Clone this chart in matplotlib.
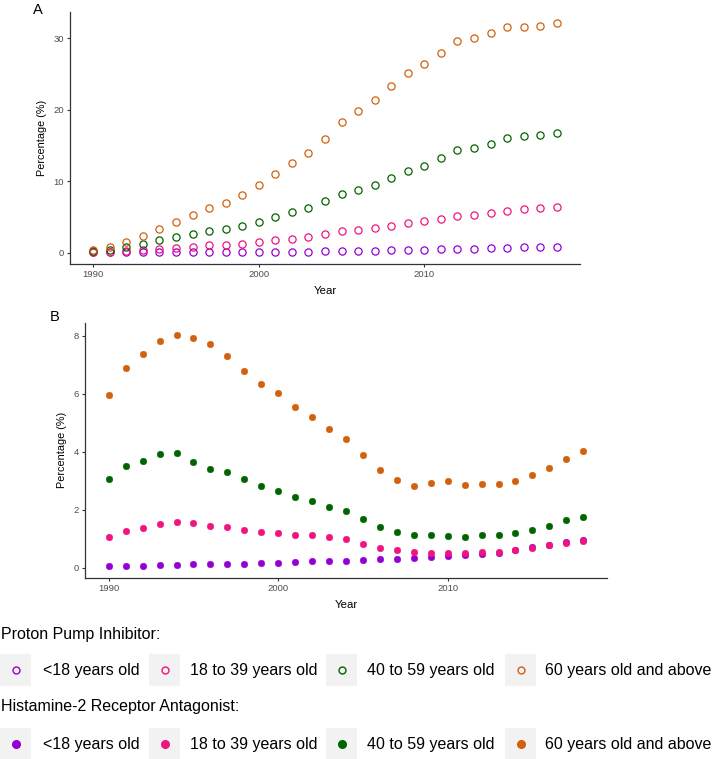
import numpy as np
import matplotlib
matplotlib.use("Agg")
import matplotlib.pyplot as plt
from matplotlib.patches import Rectangle

plt.rcParams['font.family'] = ['Liberation Sans', 'DejaVu Sans']

years = np.arange(1990, 2019)
groups = ["<18 years old", "18 to 39 years old", "40 to 59 years old", "60 years old and above"]
colors = ["#9400D3", "#F0147F", "#006400", "#D2600E"]

# Panel A: proton pump inhibitor (%)
ppi_u18 = [0.02, 0.02, 0.03, 0.03, 0.04, 0.05, 0.05, 0.06, 0.07, 0.08, 0.09, 0.10, 0.12, 0.14,
           0.16, 0.18, 0.22, 0.25, 0.30, 0.35, 0.40, 0.45, 0.50, 0.55, 0.65, 0.70, 0.75, 0.76, 0.80]
ppi_18_39 = [0.10, 0.15, 0.25, 0.40, 0.55, 0.70, 0.80, 1.00, 1.10, 1.20, 1.45, 1.75, 1.95, 2.20,
             2.60, 3.00, 3.20, 3.45, 3.75, 4.10, 4.40, 4.75, 5.10, 5.20, 5.60, 5.85, 6.10, 6.25, 6.40]
ppi_40_59 = [0.20, 0.40, 0.75, 1.20, 1.80, 2.20, 2.60, 3.00, 3.30, 3.70, 4.35, 5.05, 5.70, 6.30,
             7.20, 8.20, 8.80, 9.50, 10.40, 11.40, 12.10, 13.20, 14.30, 14.70, 15.20, 16.00, 16.40, 16.50, 16.80]
ppi_60 = [0.30, 0.75, 1.45, 2.30, 3.30, 4.35, 5.30, 6.20, 7.00, 8.00, 9.50, 11.00, 12.50, 14.00,
          15.90, 18.30, 19.90, 21.40, 23.40, 25.10, 26.40, 28.00, 29.60, 30.10, 30.80, 31.60, 31.60, 31.70, 32.10]

# Panel B: histamine-2 receptor antagonist (%)
h2_u18 = [0.05, 0.06, 0.07, 0.08, 0.10, 0.11, 0.11, 0.14, 0.14, 0.15, 0.17, 0.18, 0.21, 0.22,
          0.24, 0.26, 0.29, 0.31, 0.33, 0.35, 0.41, 0.43, 0.48, 0.50, 0.61, 0.70, 0.79, 0.88, 0.95]
h2_18_39 = [1.07, 1.26, 1.35, 1.50, 1.58, 1.53, 1.42, 1.41, 1.29, 1.22, 1.20, 1.11, 1.11, 1.05,
            1.00, 0.82, 0.69, 0.59, 0.54, 0.50, 0.49, 0.51, 0.53, 0.55, 0.62, 0.69, 0.77, 0.86, 0.91]
h2_40_59 = [3.07, 3.52, 3.69, 3.92, 3.94, 3.65, 3.39, 3.30, 3.04, 2.80, 2.63, 2.43, 2.30, 2.10,
            1.95, 1.66, 1.41, 1.22, 1.14, 1.11, 1.09, 1.06, 1.11, 1.13, 1.19, 1.31, 1.44, 1.63, 1.76]
h2_60 = [5.97, 6.90, 7.36, 7.83, 8.02, 7.93, 7.71, 7.31, 6.79, 6.34, 6.03, 5.54, 5.20, 4.78,
         4.43, 3.89, 3.38, 3.03, 2.80, 2.91, 2.97, 2.86, 2.87, 2.88, 2.97, 3.20, 3.42, 3.75, 4.03]

ppi = [ppi_u18, ppi_18_39, ppi_40_59, ppi_60]
h2 = [h2_u18, h2_18_39, h2_40_59, h2_60]

W, H = 712, 759
fig = plt.figure(figsize=(W / 100, H / 100), dpi=100)

axA = fig.add_axes([70 / W, 1 - 264 / H, 510 / W, 252 / H])
axB = fig.add_axes([85 / W, 1 - 577.7 / H, 522 / W, 255 / H])

for vals, c in zip(ppi, colors):
    axA.plot(years, vals, "o", ms=5.2, mfc="none", mec=c, mew=0.9, clip_on=False)
for vals, c in zip(h2, colors):
    axB.plot(years, vals, "o", ms=4.8, mfc=c, mec=c, mew=0.3, clip_on=False)

axA.set_xlim(1988.6, 2019.4)
axA.set_ylim(-1.6, 33.7)
axA.set_yticks([0, 10, 20, 30])
axB.set_xlim(1988.6, 2019.4)
axB.set_ylim(-0.35, 8.45)
axB.set_yticks([0, 2, 4, 6, 8])

for ax, ylx in [(axA, -0.045), (axB, -0.035)]:
    ax.set_xticks([1990, 2000, 2010])
    for s in ["top", "right"]:
        ax.spines[s].set_visible(False)
    for s in ["left", "bottom"]:
        ax.spines[s].set_color("#333333")
        ax.spines[s].set_linewidth(0.9)
    ax.tick_params(direction="out", length=2.5, width=0.8, color="#333333",
                   labelsize=6.8, labelcolor="#4D4D4D", pad=2)
    ax.set_xlabel("Year", fontsize=8.2)
    ax.set_ylabel("Percentage (%)", fontsize=7.8)
    ax.yaxis.set_label_coords(ylx, 0.5)
    ax.xaxis.set_label_coords(0.5, -0.088)

fig.text(33 / W, 1 - 10 / H, "A", fontsize=10.5, va="center", ha="left")
fig.text(50 / W, 1 - 317 / H, "B", fontsize=10.5, va="center", ha="left")

# legend drawn in pixel coordinates
lg = fig.add_axes([0, 0, 1, 1], zorder=-1)
lg.set_xlim(0, W)
lg.set_ylim(H, 0)
lg.axis("off")

box_x = [0, 149, 326, 505]
text_x = [43, 190, 367, 545]
rows = [("Proton Pump Inhibitor:", 634, 670, True), ("Histamine-2 Receptor Antagonist:", 707, 744, False)]
for title, ty, ry, hollow in rows:
    lg.text(1, ty, title, fontsize=11.5, va="center", ha="left")
    for bx, tx, lab, c in zip(box_x, text_x, groups, colors):
        lg.add_patch(Rectangle((bx, ry - 16), 31, 32, facecolor="#F2F2F2", edgecolor="none"))
        if hollow:
            lg.plot(bx + 15.5, ry, "o", ms=5, mfc="none", mec=c, mew=1.0)
        else:
            lg.plot(bx + 15.5, ry, "o", ms=5.5, mfc=c, mec=c)
        lg.text(tx, ry, lab, fontsize=11.5, va="center", ha="left")

fig.savefig("out.png", dpi=100)
